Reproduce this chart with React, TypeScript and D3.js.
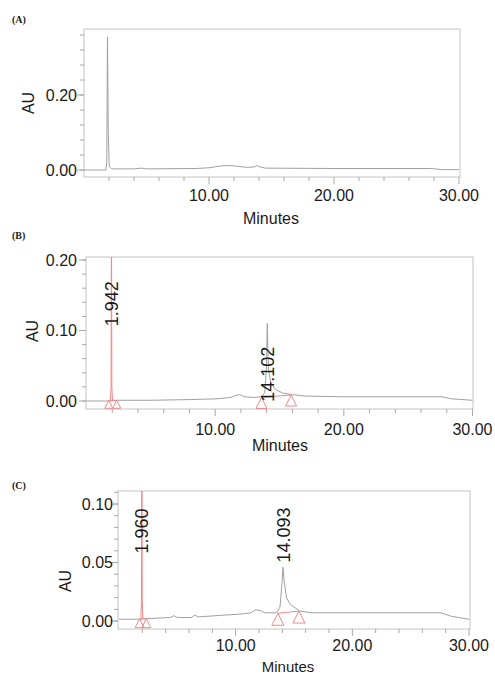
import React from "react";
import * as d3 from "d3";

// ---- data (time in minutes, absorbance in AU) ----
const traceA: [number, number][] = [
  [0, 0], [1.75, 0], [1.82, 0.02], [1.88, 0.355], [1.94, 0.1], [2.02, 0.01], [2.2, 0.003],
  [4, 0.003], [4.6, 0.005], [5, 0.003], [9, 0.004], [10, 0.006], [11, 0.011], [11.6, 0.012],
  [12.3, 0.01], [13, 0.007], [13.6, 0.008], [13.85, 0.012], [14.1, 0.008], [14.5, 0.005],
  [20, 0.004], [27.8, 0.004], [28.6, 0.001], [30, 0.001],
];
const traceB: [number, number][] = [
  [0, 0], [1.7, 0], [2.4, 0.001], [5, 0.001], [8, 0.002], [10, 0.003], [11.2, 0.005],
  [11.6, 0.008], [11.9, 0.009], [12.3, 0.006], [13, 0.005], [13.6, 0.006], [13.85, 0.012],
  [13.98, 0.045], [14.05, 0.11], [14.14, 0.045], [14.35, 0.025], [14.7, 0.016], [15.3, 0.011],
  [16, 0.009], [17, 0.007], [20, 0.006], [27.6, 0.006], [28.4, 0.003], [30, 0.001],
];
const solventB: [number, number][] = [
  [1.86, 0.001], [1.91, 0.02], [1.94, 0.3], [1.97, 0.02], [2.02, 0.001],
];
const traceC: [number, number][] = [
  [0, 0.0015], [1.7, 0.0015], [2.4, 0.002], [4.4, 0.003], [4.7, 0.0045], [5, 0.003],
  [6.2, 0.003], [6.5, 0.005], [6.8, 0.0035], [9, 0.005], [10.5, 0.006], [11.3, 0.007],
  [11.7, 0.0095], [12.1, 0.009], [12.5, 0.007], [13.5, 0.007], [13.8, 0.012], [13.95, 0.03],
  [14.06, 0.046], [14.15, 0.035], [14.35, 0.02], [14.7, 0.014], [15.5, 0.0085], [16.5, 0.007],
  [27.6, 0.007], [28.5, 0.004], [30, 0.0015],
];
const solventC: [number, number][] = [
  [1.88, 0.002], [1.93, 0.02], [1.96, 0.2], [1.99, 0.02], [2.04, 0.002],
];
// integration start/end markers: [time, AU]
const markersB: [number, number][][] = [
  [[1.73, 0.001], [2.35, 0.001]],
  [[13.6, 0.005], [15.9, 0.0085]],
];
const markersC: [number, number][][] = [
  [[1.77, 0.002], [2.34, 0.002]],
  [[13.62, 0.0066], [15.42, 0.0085]],
];
const peakTimesB = [1.942, 14.102];
const peakLabelsB = ["1.942", "14.102"];
const peakTimesC = [1.96, 14.093];
const peakLabelsC = ["1.960", "14.093"];

const xMajorTicks = [10, 20, 30];
const yTicksA = [0, 0.2];
const yTicksB = [0, 0.1, 0.2];
const yTicksC = [0, 0.05, 0.1];
const panelLetters = ["(A)", "(B)", "(C)"];

// ---- layout ----
const FONT = "'Liberation Sans', Arial, sans-serif";
const TEXT = "#1a1a1a";
const FRAME = "#c4c4c4";
const TICK = "#a8a8a8";
const TRACE = "#a0a0a0";
const RED = "#f08a8a";

type Panel = {
  key: string;
  letterY: number;
  frame: { l: number; r: number; t: number; b: number };
  xRange: [number, number];
  yDomain: [number, number];
  yRange: [number, number];
  yTicks: number[];
  yMinorStep: number;
  yLabelRight: number;
  xLabelY: number;
  title: { x: number; y: number; size: number };
  au: { x: number; y: number };
  trace: [number, number][];
  solvent?: [number, number][];
  markers?: [number, number][][];
  markerSizes?: number[];
  peakTimes?: number[];
  peakLabels?: string[];
  labelValues?: number[];
};

const panels: Panel[] = [
  {
    key: "A", letterY: 23,
    frame: { l: 84, r: 460, t: 29, b: 177 },
    xRange: [84, 459], yDomain: [0, 0.2], yRange: [170, 95],
    yTicks: yTicksA, yMinorStep: 0.04, yLabelRight: 77, xLabelY: 201,
    title: { x: 271, y: 224, size: 16 }, au: { x: 28, y: 103 },
    trace: traceA,
  },
  {
    key: "B", letterY: 239,
    frame: { l: 86, r: 473, t: 257, b: 409 },
    xRange: [86.5, 472.5], yDomain: [0, 0.2], yRange: [401, 260],
    yTicks: yTicksB, yMinorStep: 0.02, yLabelRight: 77, xLabelY: 435,
    title: { x: 280, y: 451, size: 16 }, au: { x: 32, y: 331 },
    trace: traceB, solvent: solventB, markers: markersB, markerSizes: [8, 11],
    peakTimes: peakTimesB, peakLabels: peakLabelsB, labelValues: [0.138, 0.038],
  },
  {
    key: "C", letterY: 489,
    frame: { l: 118, r: 470, t: 491, b: 629 },
    xRange: [119, 469], yDomain: [0, 0.1], yRange: [621, 504],
    yTicks: yTicksC, yMinorStep: 0.01, yLabelRight: 113, xLabelY: 651,
    title: { x: 288, y: 672, size: 15 }, au: { x: 65, y: 581 },
    trace: traceC, solvent: solventC, markers: markersC, markerSizes: [9, 12],
    peakTimes: peakTimesC, peakLabels: peakLabelsC, labelValues: [0.077, 0.0735],
  },
];

function PanelView({ p, idx }: { p: Panel; idx: number }) {
  const x = d3.scaleLinear().domain([0, 30]).range(p.xRange);
  const y = d3.scaleLinear().domain(p.yDomain).range(p.yRange);
  const line = d3.line<[number, number]>().x((d) => x(d[0])).y((d) => y(d[1]));
  const f = p.frame;
  const clipId = `clip-${p.key}`;
  const yMax = y.invert(f.t);
  const yMinor = d3.range(0, yMax + 1e-9, p.yMinorStep);
  const xMinor = d3.range(2, 30.01, 2);
  const fmt = d3.format(".2f");
  return (
    <g>
      <defs>
        <clipPath id={clipId}>
          <rect x={f.l} y={f.t} width={f.r - f.l} height={f.b - f.t} />
        </clipPath>
      </defs>
      <text x={12} y={p.letterY} fontFamily="'Liberation Serif', serif" fontWeight="bold" fontSize={10} fill={TEXT}>
        {panelLetters[idx]}
      </text>
      <rect x={f.l} y={f.t} width={f.r - f.l} height={f.b - f.t} fill="none" stroke={FRAME} strokeWidth={1} />
      {yMinor.map((v, i) => (
        <line key={"ym" + i} x1={f.l - 4} x2={f.l} y1={y(v)} y2={y(v)} stroke={TICK} />
      ))}
      {p.yTicks.map((v, i) => (
        <g key={"yt" + i}>
          <line x1={f.l - 7} x2={f.l} y1={y(v)} y2={y(v)} stroke={TICK} />
          <text x={p.yLabelRight} y={y(v)} dy="0.36em" textAnchor="end" fontFamily={FONT} fontSize={16} fill={TEXT}>
            {fmt(v)}
          </text>
        </g>
      ))}
      {xMinor.map((v, i) => (
        <line key={"xm" + i} x1={x(v)} x2={x(v)} y1={f.b} y2={f.b + (xMajorTicks.includes(Math.round(v)) ? 7 : 4)} stroke={TICK} />
      ))}
      {xMajorTicks.map((v, i) => (
        <text key={"xt" + i} x={x(v)} y={p.xLabelY} textAnchor="middle" fontFamily={FONT} fontSize={16} fill={TEXT}>
          {fmt(v)}
        </text>
      ))}
      <text x={p.title.x} y={p.title.y} textAnchor="middle" fontFamily={FONT} fontSize={p.title.size} fill={TEXT}>
        Minutes
      </text>
      <text transform={`translate(${p.au.x},${p.au.y}) rotate(-90)`} textAnchor="middle" dy="0.36em" fontFamily={FONT} fontSize={16} fill={TEXT}>
        AU
      </text>
      <g clipPath={`url(#${clipId})`}>
        <path d={line(p.trace) || ""} fill="none" stroke={TRACE} strokeWidth={1} />
        {p.solvent && <path d={line(p.solvent) || ""} fill="none" stroke={RED} strokeWidth={1} />}
        {p.markers &&
          p.markers.map((pair, i) => {
            const s = p.markerSizes ? p.markerSizes[i] : 9;
            return (
              <g key={"mk" + i}>
                <line x1={x(pair[0][0])} y1={y(pair[0][1])} x2={x(pair[1][0])} y2={y(pair[1][1])} stroke={RED} strokeWidth={1} />
                {pair.map((m, j) => {
                  const cx = x(m[0]);
                  const cy = y(m[1]);
                  return (
                    <path key={j} d={`M${cx},${cy} L${cx - s / 2},${cy + s} L${cx + s / 2},${cy + s} Z`} fill="none" stroke={RED} strokeWidth={1} />
                  );
                })}
              </g>
            );
          })}
      </g>
      {p.peakTimes &&
        p.peakTimes.map((t, i) => (
          <text
            key={"pl" + i}
            transform={`translate(${x(t)},${y(p.labelValues![i])}) rotate(-90)`}
            textAnchor="middle"
            dy="0.36em"
            fontFamily={FONT}
            fontSize={18}
            fill={TEXT}
          >
            {p.peakLabels![i]}
          </text>
        ))}
    </g>
  );
}

export default function App() {
  return (
    <svg width={495} height={674} style={{ position: "absolute", left: 0, top: 0, background: "#fff" }}>
      <rect width={495} height={674} fill="#fff" />
      {panels.map((p, i) => (
        <PanelView key={p.key} p={p} idx={i} />
      ))}
    </svg>
  );
}
